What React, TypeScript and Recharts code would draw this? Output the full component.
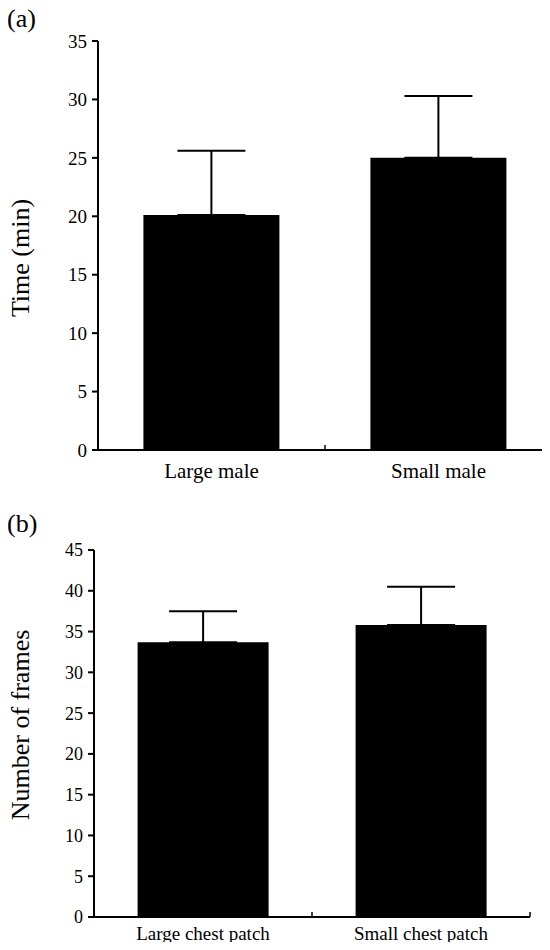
import { BarChart, Bar, XAxis, YAxis, ErrorBar } from 'recharts'

const serif = "'Liberation Serif', 'Times New Roman', serif"

// (a) time spent
const maleCategories = ['Large male', 'Small male']
const timeMeans = [20.1, 25.0]
const timeErrors = [5.5, 5.3]
const timeTicks = [0, 5, 10, 15, 20, 25, 30, 35]

// (b) number of frames
const patchCategories = ['Large chest patch', 'Small chest patch']
const frameMeans = [33.7, 35.8]
const frameErrors = [3.8, 4.7]
const frameTicks = [0, 5, 10, 15, 20, 25, 30, 35, 40, 45]

const timeData = maleCategories.map((name, i) => ({
  name,
  value: timeMeans[i],
  err: [0, timeErrors[i]],
}))

const frameData = patchCategories.map((name, i) => ({
  name,
  value: frameMeans[i],
  err: [0, frameErrors[i]],
}))

const axisLine = { stroke: '#000', strokeWidth: 2 }

// category label plus a small upward mark at the right edge of its band
const CatTick = ({ x, y, payload, width, visibleTicksCount, gap, fontSize, plotWidth }: any) => {
  const axisWidth = typeof width === 'number' && width > 0 ? width : plotWidth
  const half = axisWidth / (visibleTicksCount || 2) / 2
  const base = y - gap
  return (
    <g>
      <text
        x={x}
        y={y}
        dy="0.71em"
        textAnchor="middle"
        fill="#000"
        fontSize={fontSize}
        fontFamily={serif}
      >
        {payload.value}
      </text>
      <line
        x1={x + half}
        x2={x + half}
        y1={base}
        y2={base - 5}
        stroke="#000"
        strokeWidth={1.5}
      />
    </g>
  )
}

const Panel = ({
  data,
  ticks,
  max,
  width,
  height,
  top,
  yWidth,
  xHeight,
  catMargin,
  tickFont,
  catFont,
}: any) => (
  <BarChart
    width={width}
    height={height}
    data={data}
    barCategoryGap="20%"
    margin={{ top, right: 2, left: 0, bottom: 0 }}
  >
    <XAxis
      dataKey="name"
      axisLine={axisLine}
      tickLine={false}
      tickSize={0}
      tickMargin={catMargin}
      height={xHeight}
      interval={0}
      tick={(p: any) => (
        <CatTick
          {...p}
          gap={catMargin}
          fontSize={catFont}
          plotWidth={width - yWidth - 2}
        />
      )}
    />
    <YAxis
      domain={[0, max]}
      ticks={ticks}
      interval={0}
      width={yWidth}
      axisLine={axisLine}
      tickSize={6}
      tickMargin={5}
      tickLine={{ stroke: '#000', strokeWidth: 2 }}
      tick={{ fill: '#000', fontSize: tickFont, fontFamily: serif }}
    />
    <Bar dataKey="value" fill="#000" isAnimationActive={false}>
      <ErrorBar
        dataKey="err"
        direction="y"
        width={34}
        stroke="#000"
        strokeWidth={2}
        isAnimationActive={false}
      />
    </Bar>
  </BarChart>
)

const panelLetter = (text: string, top: number) => (
  <div
    style={{
      position: 'absolute',
      left: 7,
      top,
      fontSize: 26,
      lineHeight: 1,
      fontFamily: serif,
    }}
  >
    {text}
  </div>
)

const yTitle = (text: string, cx: number, cy: number) => (
  <div
    style={{
      position: 'absolute',
      left: cx,
      top: cy,
      fontSize: 26,
      lineHeight: 1,
      fontFamily: serif,
      whiteSpace: 'nowrap',
      transform: 'translate(-50%, -50%) rotate(-90deg)',
    }}
  >
    {text}
  </div>
)

export default function App() {
  return (
    <div
      style={{
        position: 'relative',
        width: 550,
        height: 950,
        margin: -8,
        overflow: 'hidden',
        background: '#fff',
      }}
    >
      <div style={{ position: 'absolute', left: 0, top: 0 }}>
        <Panel
          data={timeData}
          ticks={timeTicks}
          max={35}
          width={554}
          height={500}
          top={41}
          yWidth={98}
          xHeight={50}
          catMargin={13}
          tickFont={19}
          catFont={21}
        />
      </div>
      <div style={{ position: 'absolute', left: 0, top: 500 }}>
        <Panel
          data={frameData}
          ticks={frameTicks}
          max={45}
          width={532}
          height={450}
          top={50}
          yWidth={94}
          xHeight={33}
          catMargin={10}
          tickFont={18}
          catFont={19}
        />
      </div>
      {panelLetter('(a)', 6)}
      {panelLetter('(b)', 511)}
      {yTitle('Time (min)', 21, 258)}
      {yTitle('Number of frames', 21, 725)}
    </div>
  )
}
